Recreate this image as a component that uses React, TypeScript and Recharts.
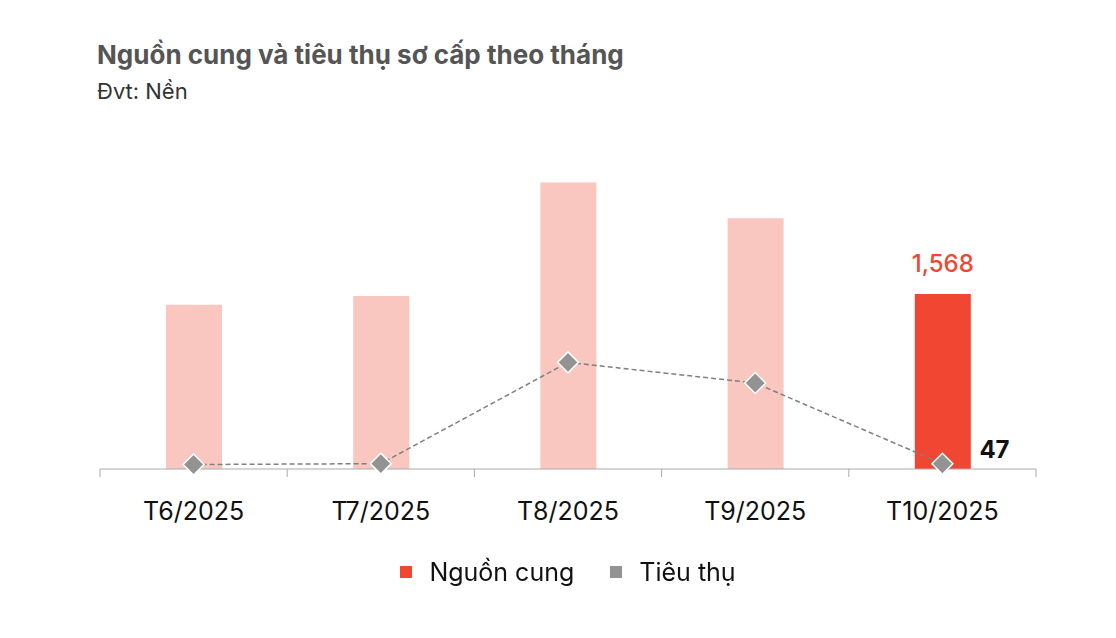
import React from "react";
import {
  ComposedChart,
  Bar,
  Line,
  XAxis,
  YAxis,
  Cell,
  LabelList,
} from "recharts";

const months = ["T6/2025", "T7/2025", "T8/2025", "T9/2025", "T10/2025"];
const supply = [1472, 1550, 2565, 2246, 1568];
const absorption = [40, 48, 955, 770, 47];

const data = months.map((m, i) => ({ month: m, supply: supply[i], absorption: absorption[i] }));

const FONT = "Inter, 'Noto Sans', sans-serif";
const RED = "#F04632";
const PINK = "#F9C7BF";
const GREY = "#939393";

const W = 1116;
const H = 638;
const MARGIN = { top: 134, right: 80, bottom: 109, left: 100 };
const HALF_BAND = (W - MARGIN.left - MARGIN.right) / months.length / 2;

const MonthTick = (props: any) => {
  const { x, y, payload, index } = props;
  const last = index === months.length - 1;
  return (
    <g>
      <line x1={x - HALF_BAND} x2={x - HALF_BAND} y1={y - 8} y2={y} stroke="#AAAAAA" strokeWidth={1} />
      {last && (
        <line x1={x + HALF_BAND} x2={x + HALF_BAND} y1={y - 8} y2={y} stroke="#AAAAAA" strokeWidth={1} />
      )}
      <text x={x} y={y + 43} textAnchor="middle" fontFamily={FONT} fontSize={25} fill="#111">
        {payload.value}
      </text>
    </g>
  );
};

const Diamond = (props: any) => {
  const { cx, cy } = props;
  if (cx == null || cy == null) return null;
  const r = 10.5;
  return (
    <path
      d={`M${cx},${cy - r} L${cx + r},${cy} L${cx},${cy + r} L${cx - r},${cy} Z`}
      fill={GREY}
      stroke="#fff"
      strokeWidth={1.5}
    />
  );
};

const SupplyLabel = (props: any) => {
  const { x, y, width, value, index } = props;
  if (index !== months.length - 1) return null;
  return (
    <text x={x + width / 2} y={y - 22} textAnchor="middle" fontFamily={FONT} fontSize={24} fontWeight={500} fill={RED}>
      {value.toLocaleString("en-US")}
    </text>
  );
};

const AbsorptionLabel = (props: any) => {
  const { x, y, value, index } = props;
  if (index !== months.length - 1) return null;
  return (
    <text x={x + 37} y={y - 6} fontFamily={FONT} fontSize={24} fontWeight={700} fill="#111">
      {value}
    </text>
  );
};

const legendItems = [
  { name: "Nguồn cung", color: RED },
  { name: "Tiêu thụ", color: GREY },
];

export default function App() {
  return (
    <div style={{ position: "fixed", left: 0, top: 0, width: W, height: H, background: "#fff", fontFamily: FONT }}>
      <div style={{ position: "absolute", left: 97, top: 39, fontSize: 26, fontWeight: 700, color: "#555" }}>
        Nguồn cung và tiêu thụ sơ cấp theo tháng
      </div>
      <div style={{ position: "absolute", left: 97, top: 78, fontSize: 22, fontWeight: 400, color: "#333" }}>
        Đvt: Nền
      </div>
      <ComposedChart width={W} height={H} data={data} margin={MARGIN}>
        <XAxis
          dataKey="month"
          axisLine={{ stroke: "#AAAAAA", strokeWidth: 1 }}
          tickLine={false}
          tick={<MonthTick />}
          height={60}
          interval={0}
        />
        <YAxis hide domain={[0, 3000]} />
        <Bar dataKey="supply" barSize={56} isAnimationActive={false}>
          {data.map((_, i) => (
            <Cell key={i} fill={i === months.length - 1 ? RED : PINK} />
          ))}
          <LabelList dataKey="supply" content={<SupplyLabel />} />
        </Bar>
        <Line
          dataKey="absorption"
          stroke="#808080"
          strokeWidth={1.5}
          strokeDasharray="5 3"
          dot={<Diamond />}
          activeDot={false}
          isAnimationActive={false}
        >
          <LabelList dataKey="absorption" content={<AbsorptionLabel />} />
        </Line>
      </ComposedChart>
      <div
        style={{
          position: "absolute",
          top: 557,
          left: 10,
          width: W,
          display: "flex",
          justifyContent: "center",
          gap: 36,
          fontSize: 25,
          color: "#111",
        }}
      >
        {legendItems.map((it) => (
          <div key={it.name} style={{ display: "flex", alignItems: "center" }}>
            <span style={{ display: "inline-block", width: 12, height: 12, background: it.color, marginRight: 17 }} />
            <span>{it.name}</span>
          </div>
        ))}
      </div>
    </div>
  );
}
